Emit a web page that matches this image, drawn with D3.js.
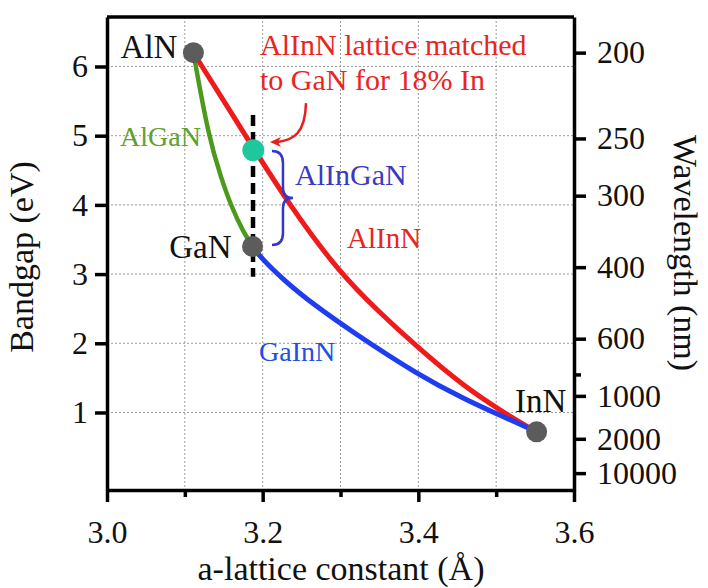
<!DOCTYPE html>
<html>
<head>
<meta charset="utf-8">
<script src="https://cdn.jsdelivr.net/npm/d3@7"></script>
<style>
  html, body { margin: 0; padding: 0; background: #fff; }
  svg { display: block; }
</style>
</head>
<body>
<svg id="chart" width="708" height="588"></svg>
<script>
// ---------------- data ----------------
const binaryNames = ["AlN", "GaN", "InN"];
const binaryA = [3.111, 3.187, 3.552];
const binaryE = [6.20, 3.40, 0.72];

const alganA = [3.111, 3.130, 3.1465, 3.160, 3.175, 3.187];
const alganE = [6.20, 5.01, 4.39, 3.97, 3.61, 3.40];

const alinnA = [3.111, 3.178, 3.234, 3.300, 3.350, 3.393, 3.460, 3.510, 3.535, 3.552];
const alinnE = [6.20, 5.00, 4.00, 3.00, 2.45, 2.00, 1.36, 1.00, 0.83, 0.72];

const gainnA = [3.187, 3.1966, 3.2265, 3.269, 3.312, 3.400, 3.462, 3.505, 3.535, 3.552];
const gainnE = [3.40, 3.25, 2.915, 2.53, 2.19, 1.54, 1.18, 0.96, 0.81, 0.72];

const matchA = [3.188];
const matchE = [4.79];

const dashA = [3.1876, 3.1876];
const dashE = [5.30, 2.96];

const xTicks = [3.0, 3.2, 3.4, 3.6];
const xMinorTicks = [3.1, 3.3, 3.5];
const yTicks = [1, 2, 3, 4, 5, 6];
const wlTicks = [200, 250, 300, 400, 600, 1000, 2000, 10000];
const wlMinorTicks = [800];

// ---------------- layout ----------------
const svg = d3.select("#chart");
const L = 107, R = 574, T = 17, B = 490;
const x = d3.scaleLinear().domain([3.0, 3.6]).range([L, R]);
const y = d3.scaleLinear().domain([-0.12, 6.715]).range([B, T]);
const eOfWl = wl => 1240 / wl;

const FONT = "Liberation Serif";

// grid
const grid = svg.append("g").attr("stroke", "#9a9a9a").attr("stroke-width", 1)
  .attr("stroke-dasharray", "2,2");
grid.selectAll("line.h").data(yTicks).join("line")
  .attr("x1", L).attr("x2", R).attr("y1", d => y(d)).attr("y2", d => y(d));
grid.selectAll("line.v").data([3.1, 3.2, 3.3, 3.4, 3.5]).join("line")
  .attr("y1", T).attr("y2", B).attr("x1", d => x(d)).attr("x2", d => x(d));

// curves
const line = d3.line().curve(d3.curveBasis).x(d => x(d[0])).y(d => y(d[1]));
const zip = (a, e) => a.map((v, i) => [v, e[i]]);

svg.append("path").datum(zip(alinnA, alinnE)).attr("d", line)
  .attr("fill", "none").attr("stroke", "#f01a1a").attr("stroke-width", 5).attr("stroke-linecap", "round");
svg.append("path").datum(zip(gainnA, gainnE)).attr("d", line)
  .attr("fill", "none").attr("stroke", "#1e3cf0").attr("stroke-width", 5).attr("stroke-linecap", "round");
svg.append("path").datum(zip(alganA, alganE)).attr("d", line)
  .attr("fill", "none").attr("stroke", "#4c9a1c").attr("stroke-width", 4.5).attr("stroke-linecap", "round");

// dashed lattice-matched line
svg.append("line")
  .attr("x1", x(dashA[0])).attr("x2", x(dashA[1]))
  .attr("y1", y(dashE[0])).attr("y2", y(dashE[1]))
  .attr("stroke", "#000").attr("stroke-width", 4.5).attr("stroke-dasharray", "11,6");

// binary points
svg.selectAll("circle.bin").data(binaryA).join("circle")
  .attr("cx", d => x(d)).attr("cy", (d, i) => y(binaryE[i])).attr("r", 10.5)
  .attr("fill", "#5c5c5c");
// lattice matched point
svg.selectAll("circle.match").data(matchA).join("circle")
  .attr("cx", d => x(d)).attr("cy", (d, i) => y(matchE[i])).attr("r", 11)
  .attr("fill", "#1fc79c");

// brace for AlInGaN
const bx = x(3.2261), btip = x(3.2390), bend = x(3.212);
const bTop = y(4.78), bMid = y(4.10), bBot = y(3.42);
svg.append("path")
  .attr("d", `M${bend},${bTop} Q${bx},${bTop} ${bx},${bTop + 12} L${bx},${bMid - 10} Q${bx},${bMid} ${btip},${bMid} Q${bx},${bMid} ${bx},${bMid + 10} L${bx},${bBot - 12} Q${bx},${bBot} ${bend},${bBot}`)
  .attr("fill", "none").attr("stroke", "#3535c8").attr("stroke-width", 2.5);

// red arrow
const ax0 = x(3.2557), ay0 = y(5.47);
const tipX = x(3.2094), tipY = y(4.91);
svg.append("path")
  .attr("d", `M${ax0},${ay0} C${ax0 - 1},${ay0 + 30} ${ax0 - 12},${tipY - 2} ${tipX + 8},${tipY}`)
  .attr("fill", "none").attr("stroke", "#e8201c").attr("stroke-width", 2.5);
svg.append("path")
  .attr("d", `M${tipX},${tipY} L${tipX + 11},${tipY - 5} L${tipX + 8},${tipY} L${tipX + 11},${tipY + 5} Z`)
  .attr("fill", "#e8201c");

// frame top line
svg.append("line").attr("x1", L).attr("x2", R).attr("y1", T).attr("y2", T)
  .attr("stroke", "#000").attr("stroke-width", 3.5);

// axes
function styleAxis(g, size) {
  g.attr("font-family", null).attr("font-size", null);
  g.select(".domain").attr("stroke-width", 3.5);
  g.selectAll(".tick line").attr("stroke-width", 3.5);
  g.selectAll(".tick text").style("font-family", FONT).style("font-size", size + "px").attr("fill", "#111");
}
const gx = svg.append("g").attr("transform", `translate(0,${B})`)
  .call(d3.axisBottom(x).tickValues(xTicks).tickFormat(d3.format(".1f")).tickSize(12).tickSizeOuter(0).tickPadding(18));
styleAxis(gx, 32);
svg.append("g").attr("transform", `translate(0,${B})`)
  .call(d3.axisBottom(x).tickValues(xMinorTicks).tickFormat("").tickSize(7).tickSizeOuter(0))
  .call(g => { g.select(".domain").remove(); g.selectAll(".tick line").attr("stroke-width", 3.5); });

const gy = svg.append("g").attr("transform", `translate(${L},0)`)
  .call(d3.axisLeft(y).tickValues(yTicks).tickFormat(d3.format("d")).tickSize(12).tickSizeOuter(0).tickPadding(7));
styleAxis(gy, 32);

const gr = svg.append("g").attr("transform", `translate(${R},0)`)
  .call(d3.axisRight(y).tickValues(wlTicks.map(eOfWl)).tickFormat((d, i) => wlTicks[i]).tickSize(12).tickSizeOuter(0).tickPadding(11));
styleAxis(gr, 32);
svg.append("g").attr("transform", `translate(${R},0)`)
  .call(d3.axisRight(y).tickValues(wlMinorTicks.map(eOfWl)).tickFormat("").tickSize(7).tickSizeOuter(0))
  .call(g => { g.select(".domain").remove(); g.selectAll(".tick line").attr("stroke-width", 3.5); });

// axis titles
function title(txt, transform) {
  svg.append("text").attr("transform", transform).attr("text-anchor", "middle")
    .style("font-family", FONT).style("font-size", "34px").attr("fill", "#111").text(txt);
}
title("a-lattice constant (Å)", "translate(341,580)");
title("Bandgap (eV)", "translate(33,257) rotate(-90)");
title("Wavelength (nm)", "translate(674,253) rotate(90)");

// labels
function label(txt, px, py, size, color, anchor) {
  svg.append("text").attr("x", px).attr("y", py)
    .style("font-family", FONT).style("font-size", size + "px")
    .attr("fill", color).attr("text-anchor", anchor || "start").text(txt);
}
label("AlN", x(binaryA[0]) - 16, y(binaryE[0]) + 5, 33, "#111", "end");
label("GaN", x(binaryA[1]) - 21, y(binaryE[1]) + 12, 33, "#111", "end");
label("InN", x(binaryA[2]) + 4, y(binaryE[2]) - 20, 33, "#111", "middle");
label("AlInN lattice matched", 260, 55, 30, "#e8251e");
label("to GaN for 18% In", 260, 90, 30, "#e8251e");
label("AlGaN", 120, 146, 28, "#5ca130");
label("AlInGaN", 295, 185, 30, "#3a3ac0");
label("AlInN", 347, 248, 29, "#e8251e");
label("GaInN", 259, 361, 28, "#2050e0");
</script>
</body>
</html>
